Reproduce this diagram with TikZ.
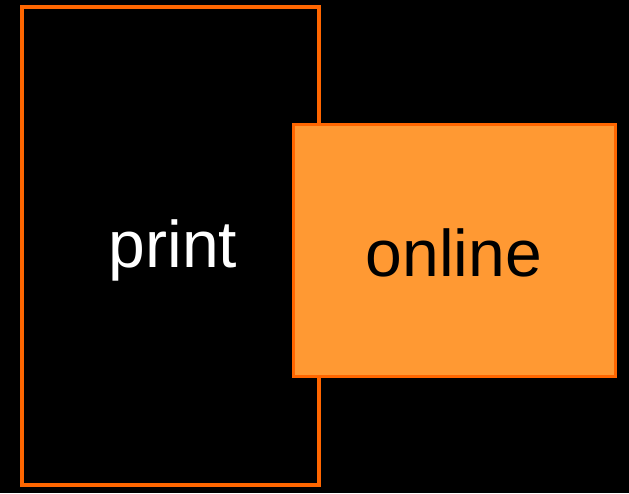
\documentclass[tikz,border=0pt]{standalone}
\usepackage{fontspec}
\setmainfont{Liberation Sans}
\usetikzlibrary{positioning}

\definecolor{edgeorange}{HTML}{FF6600}
\definecolor{boxorange}{HTML}{FF9933}

\begin{document}
\begin{tikzpicture}[
    x=1pt, y=-1pt,
    media/.style={rectangle, draw=edgeorange, line width=3.5pt, inner sep=0pt},
    label/.style={font=\fontsize{66}{72}\selectfont, inner sep=0pt}
]

% background
\fill[black] (0,0) rectangle (629,493);
\useasboundingbox (0,0) rectangle (629,493);

% print column
\node[media, minimum width=297pt, minimum height=478pt] (print) at (170.5,246) {};
\node[label, text=white] (printtext) at (173,250) {print};

% online box
\node[media, fill=boxorange, line width=3pt, minimum width=322pt, minimum height=252pt] (online) at (454.5,250) {};
\node[label, text=black] (onlinetext) at (454,253) {online};

\end{tikzpicture}
\end{document}
